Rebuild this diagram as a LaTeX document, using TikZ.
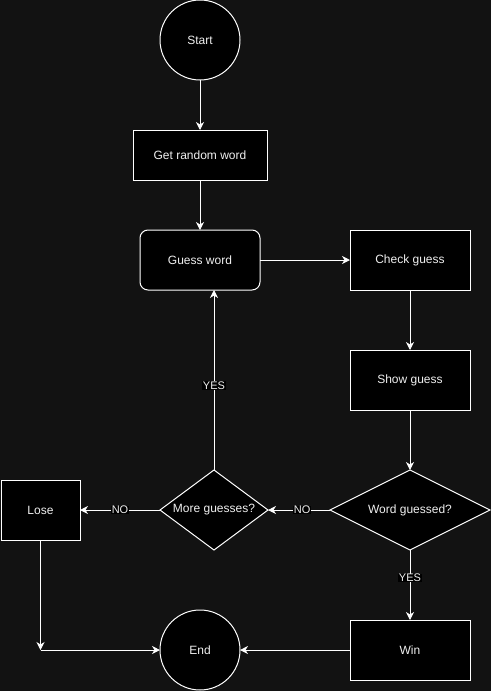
\documentclass[tikz,border=0pt]{standalone}
\usepackage{fontspec}
\setmainfont{Liberation Sans}
\usepackage{xcolor}
\usetikzlibrary{arrows.meta,positioning,shapes.geometric}
\definecolor{bg}{RGB}{18,18,18}
\definecolor{txt}{RGB}{240,240,240}

\begin{document}
\begin{tikzpicture}[x=1pt,y=1pt, every node/.style={font=\fontsize{12}{14}\selectfont,text=txt,outer sep=0pt}, box/.style={draw=white,fill=black,line width=1pt,minimum width=120pt,minimum height=60pt,inner sep=0pt}, circ/.style={draw=white,fill=black,line width=1pt,circle,minimum size=80pt,inner sep=0pt}, dec/.style={draw=white,fill=black,line width=1pt,diamond,inner sep=0pt,minimum height=80pt}, arr/.style={-{Stealth[length=8pt,width=8pt,inset=2.5pt]},draw=white,line width=1pt}, lbl/.style={fill=black,inner sep=0.5pt,font=\fontsize{11}{13}\selectfont}]
\fill[bg] (0,0) rectangle (491,-691);
\useasboundingbox (0,0) rectangle (491,-691);
\node[circ] (start) at (200,-40) {Start};
\node[box,below=50pt of start,minimum width=134pt,minimum height=50pt] (getword) {Get random word};
\node[box,below=50pt of getword,rounded corners=8pt] (guess) {Guess word};
\node[box,right=90pt of guess] (check) {Check guess};
\node[box,below=60pt of check] (show) {Show guess};
\node[dec,below=60pt of show,minimum width=160pt,shape aspect=2] (wordq) {Word guessed?};
\node[dec,left=62pt of wordq,minimum width=108pt,shape aspect=1.35] (more) {More guesses?};
\node[box,left=80pt of more,minimum width=79pt] (lose) {Lose};
\node[box,below=70pt of wordq] (win) {Win};
\node[circ,left=110pt of win] (fin) {End};
\coordinate (bend) at (lose |- fin);
\draw[arr] (start)--(getword);\draw[arr] (getword)--(guess);\draw[arr] (guess)--(check);\draw[arr] (check)--(show);\draw[arr] (show)--(wordq);
\draw[arr] (wordq)--node[lbl,pos=0.45]{NO}(more);\draw[arr] (more)--node[lbl,midway]{NO}(lose);
\draw[arr] (more.north)--node[lbl,pos=0.47]{YES}(more.north |- guess.south);
\draw[arr] (wordq)--node[lbl,pos=0.4]{YES}(win);
\draw[arr] (lose)--(bend);\draw[arr] (bend)--(fin);\draw[arr] (win)--(fin);
\end{tikzpicture}
\end{document}
